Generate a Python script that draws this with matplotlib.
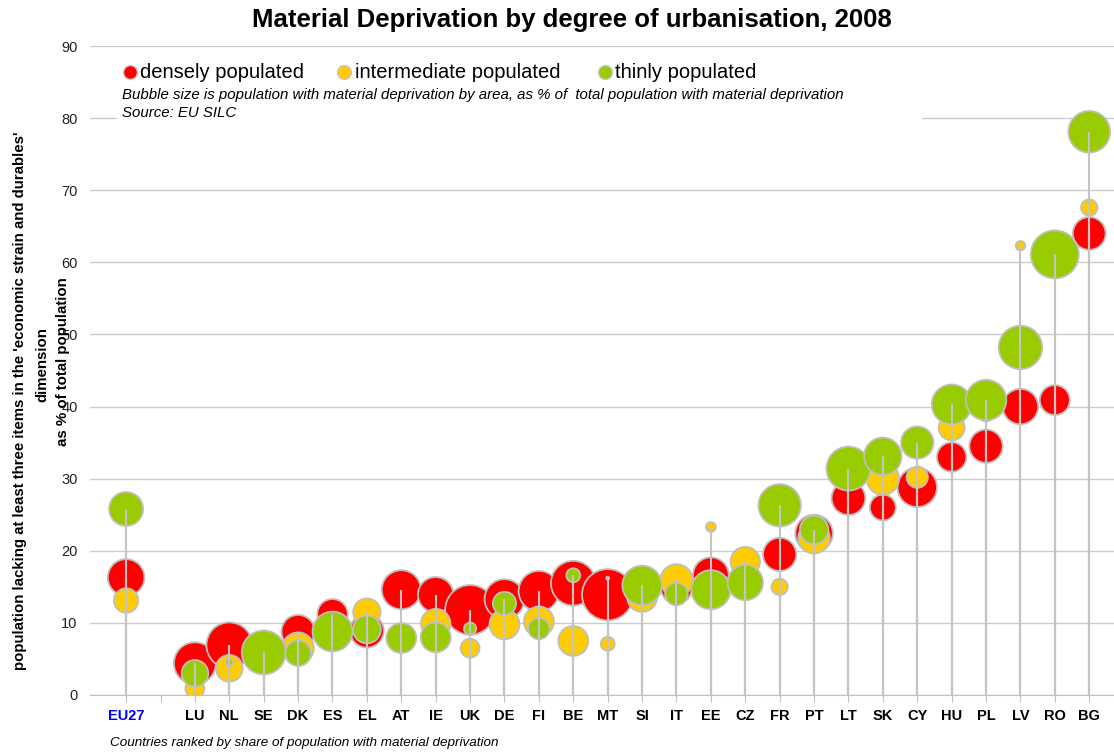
import numpy as np
import matplotlib
matplotlib.use("Agg")
import matplotlib.pyplot as plt
from matplotlib.patches import Rectangle
from matplotlib.lines import Line2D

plt.rcParams['font.family'] = ['Liberation Sans', 'DejaVu Sans']

countries = ['EU27', 'LU', 'NL', 'SE', 'DK', 'ES', 'EL', 'AT', 'IE', 'UK', 'DE', 'FI', 'BE', 'MT',
             'SI', 'IT', 'EE', 'CZ', 'FR', 'PT', 'LT', 'SK', 'CY', 'HU', 'PL', 'LV', 'RO', 'BG']

# % of population lacking at least three items
dense_val = [16.3, 4.4, 6.9, 5.5, 8.8, 11.2, 8.9, 14.6, 13.9, 11.8, 13.3, 14.4, 15.5, 13.9,
             14.8, 14.8, 16.6, 15.4, 19.5, 22.4, 27.3, 26.0, 28.8, 33.0, 34.5, 40.0, 40.9, 64.0]
inter_val = [13.1, 0.9, 3.7, 6.0, 6.5, 9.5, 11.5, 8.0, 9.9, 6.5, 9.8, 10.2, 7.5, 7.1,
             13.6, 15.9, 23.3, 18.5, 15.0, 21.8, 31.0, 30.0, 30.2, 37.1, 39.0, 62.3, 60.0, 67.6]
thin_val = [25.8, 3.0, 4.5, 5.9, 5.8, 8.8, 9.1, 7.9, 8.0, 9.2, 12.7, 9.2, 16.6, 16.2,
            15.2, 14.0, 14.6, 15.6, 26.3, 22.9, 31.4, 33.1, 35.0, 40.3, 40.9, 48.2, 61.1, 78.1]

# bubble size: share of deprived population by area (%)
dense_share = [45, 59, 70, 17, 37, 31, 38, 51, 42, 83, 53, 55, 67, 88,
               16, 32, 43, 29, 37, 47, 38, 22.5, 52, 29, 37, 42, 30, 36]
inter_share = [20, 12, 24, 18, 33, 15, 25, 19, 29, 12, 30, 30, 30, 6.5,
               30, 35, 3.3, 29, 9, 33, 2, 35, 15, 22.5, 8, 3, 1, 9]
thin_share = [38.5, 23.6, 1.6, 64.5, 22, 53, 26, 30, 30, 5, 18, 15, 6.5, 0.3,
              52, 17, 51, 42, 60, 27, 64.5, 47, 35, 53, 55, 63, 77, 58]

series = [('densely populated', dense_val, dense_share, '#ff0000'),
          ('intermediate populated', inter_val, inter_share, '#ffcc00'),
          ('thinly populated', thin_val, thin_share, '#99cc00')]

W, H = 1114, 754
fig = plt.figure(figsize=(W / 100, H / 100), dpi=100)
ax = fig.add_axes([90 / W, 1 - 695 / H, (W - 90) / W, (695 - 46) / H])

# EU27 first, then a gap, then the countries
xpos = np.array([0] + list(range(2, len(countries) + 1)))
size_scale = 15.5

for name, vals, shares, col in series:
    ax.scatter(xpos, vals, s=np.array(shares) * size_scale, color=col,
               edgecolors='#bfbfbf', linewidths=1.3, zorder=3)
    ax.vlines(xpos, 0, vals, color='#c4c4c4', lw=1.5, zorder=4)

ax.set_xlim(-1.05, 28.72)
ax.set_ylim(0, 90)
ax.set_yticks(range(0, 91, 10))
ax.yaxis.grid(True, color='#cccccc', lw=1)
ax.set_axisbelow(True)
ax.tick_params(axis='y', length=0, pad=9, labelsize=10.5, colors='#222222')

ax.set_xticks(range(0, 29))
ax.set_xticklabels(['EU27', ''] + countries[1:], fontweight='bold', fontsize=10.5)
ax.tick_params(axis='x', length=5, color='#bfbfbf', pad=5)
ax.get_xticklabels()[0].set_color('#0000ff')

for s in ['left', 'top', 'right']:
    ax.spines[s].set_visible(False)
ax.spines['bottom'].set_color('#bfbfbf')

# white panel behind the legend
ax.add_patch(Rectangle((117 / W, 1 - 126 / H), (922 - 117) / W, 70 / H, transform=fig.transFigure,
                       facecolor='white', edgecolor='none', zorder=1.5, clip_on=False))

fig.text(572 / W, 1 - 20 / H, 'Material Deprivation by degree of urbanisation, 2008',
         ha='center', va='center', fontsize=18.5, fontweight='bold')

leg_x = [(130, 140), (344, 355), (605, 615)]
for (mx, tx), (name, vals, shares, col) in zip(leg_x, series):
    fig.add_artist(Line2D([mx / W], [1 - 72 / H], marker='o', markersize=10, color=col,
                          markeredgecolor='#c8c8c8', markeredgewidth=1, transform=fig.transFigure))
    fig.text(tx / W, 1 - 72 / H, name, ha='left', va='center', fontsize=14.5)

fig.text(122 / W, 1 - 95 / H,
         'Bubble size is population with material deprivation by area, as % of  total population with material deprivation',
         ha='left', va='center', fontsize=10.8, style='italic')
fig.text(122 / W, 1 - 113 / H, 'Source: EU SILC', ha='left', va='center', fontsize=10.8, style='italic')
fig.text(110 / W, 1 - 743 / H, 'Countries ranked by share of population with material deprivation',
         ha='left', va='center', fontsize=9.7, style='italic')

fig.text(20 / W, 1 - 401 / H,
         "population lacking at least three items in the 'economic strain and durables'",
         rotation=90, ha='center', va='center', fontsize=10.8, fontweight='bold')
fig.text(42 / W, 1 - 365 / H, 'dimension', rotation=90, ha='center', va='center',
         fontsize=10.8, fontweight='bold')
fig.text(63 / W, 1 - 362 / H, 'as % of total population', rotation=90, ha='center', va='center',
         fontsize=10.8, fontweight='bold')

fig.savefig('out.png', dpi=100)
